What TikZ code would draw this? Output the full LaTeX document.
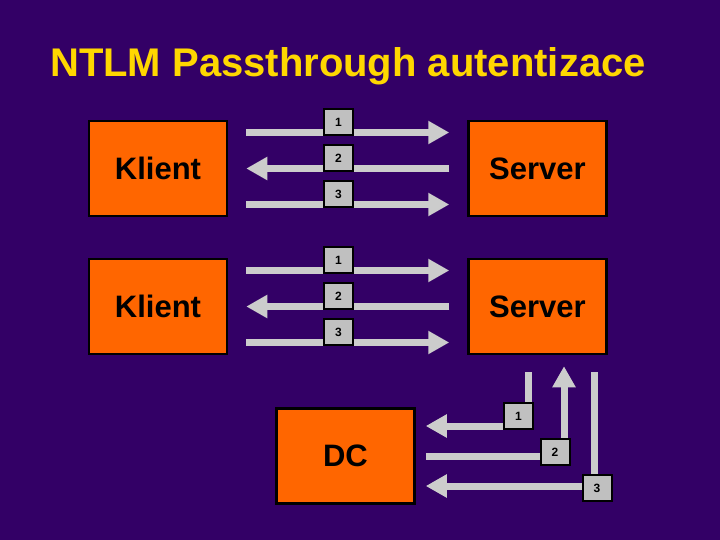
\documentclass[tikz,border=0pt]{standalone}
\usepackage{fontspec}
\setmainfont{Liberation Sans}
\usetikzlibrary{arrows.meta}
\definecolor{bgpurple}{HTML}{330066}
\definecolor{boxorange}{HTML}{FF6600}
\definecolor{titleyellow}{HTML}{FFD700}
\definecolor{flowgray}{HTML}{CCCCCC}
\definecolor{taggray}{HTML}{C0C0C0}
\begin{document}
\begin{tikzpicture}[x=1pt,y=-1pt,
	box/.style={draw=black,fill=boxorange,line width=2.5pt,minimum width=138pt,minimum height=95pt,font=\fontsize{31}{36}\selectfont\bfseries},
	tag/.style={draw=black,fill=taggray,line width=2pt,minimum width=29pt,minimum height=26pt,inner sep=0pt,font=\fontsize{12}{14}\selectfont\bfseries},
	flow/.style={draw=flowgray,line width=7pt,-{Triangle[width=22pt,length=21pt]}}]
				\fill[bgpurple] (0,0) rectangle (720,540);
				\node[anchor=base west,inner sep=0pt,text=titleyellow,font=\fontsize{40}{46}\selectfont\bfseries] (title) at (50,77) {NTLM Passthrough autentizace};
				% klient - server
				\foreach \r/\y in {1/168.5,2/306.5}{
					\node[box] (k\r) at (158,\y) {Klient};
					\node[box] (s\r) at (537.5,\y) {Server};
					\draw[flow,shorten <=18pt,shorten >=18pt] ([yshift=36pt]k\r.east) -- ([yshift=36pt]s\r.west);
					\draw[flow,shorten <=18pt,shorten >=18pt] (s\r.west) -- (k\r.east);
					\draw[flow,shorten <=18pt,shorten >=18pt] ([yshift=-36pt]k\r.east) -- ([yshift=-36pt]s\r.west);
					\node[tag] (a\r) at (338.5,\y-46.5) {1};
					\node[tag] (b\r) at (338.5,\y-10.5) {2};
					\node[tag] (c\r) at (338.5,\y+25.5) {3};
				}
				% server - DC
				\node[box] (dc) at (345.5,456) {DC};
				\draw[flow,shorten <=17pt,shorten >=10pt] ([xshift=-9.5pt]s2.south) |- ([yshift=30pt]dc.east);
				\draw[flow,shorten <=10pt,shorten >=11pt] (dc.east) -| ([xshift=26.5pt]s2.south);
				\draw[flow,shorten <=17pt,shorten >=10pt] ([xshift=56.5pt]s2.south) |- ([yshift=-30pt]dc.east);
				\node[tag] (d1) at (518.5,416) {1};
				\node[tag] (d2) at (555,452) {2};
				\node[tag] (d3) at (597,488) {3};
\end{tikzpicture}
\end{document}
